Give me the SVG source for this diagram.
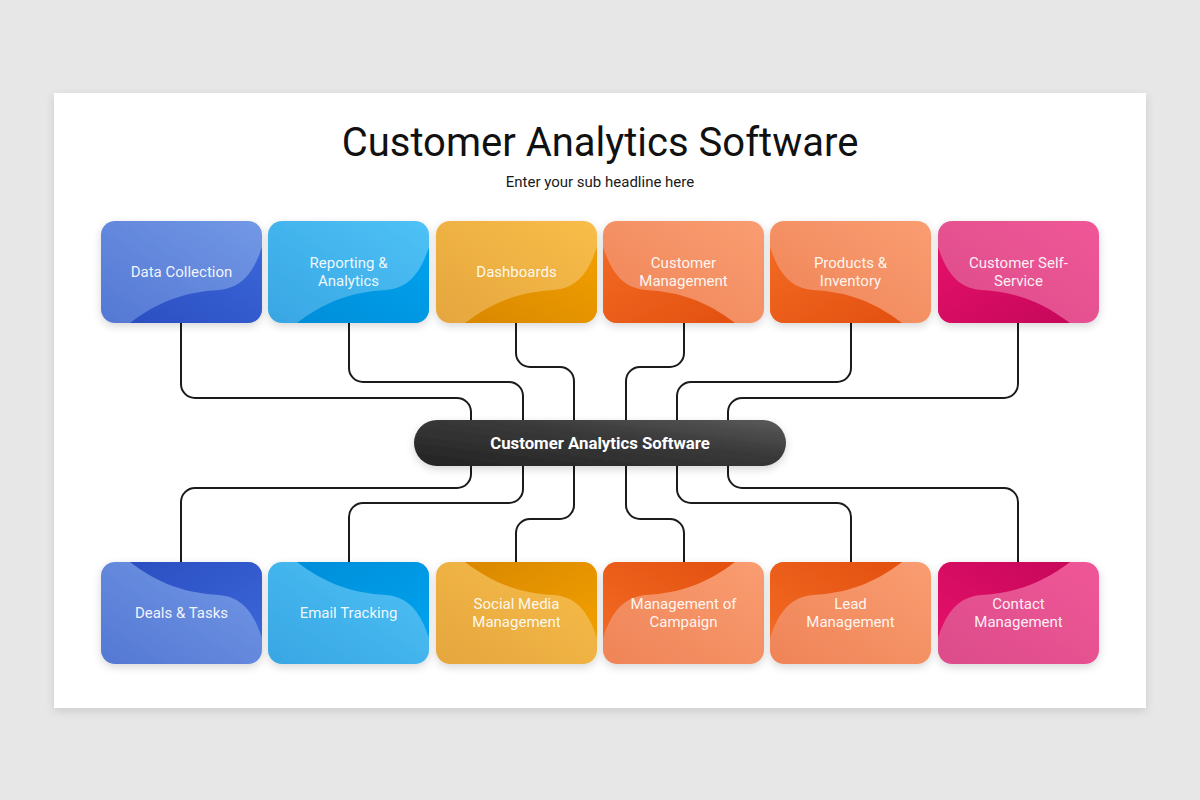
<svg xmlns="http://www.w3.org/2000/svg" width="1200" height="800" viewBox="0 0 1200 800">
<defs>
<style>
.lbl{font-family:Roboto,"Liberation Sans",sans-serif;font-size:15px;fill:#ffffff;fill-opacity:0.93;text-anchor:middle}
.ttl{font-family:Roboto,"Liberation Sans",sans-serif;font-size:40px;fill:#111111;text-anchor:middle}
.sub{font-family:Roboto,"Liberation Sans",sans-serif;font-size:15px;fill:#1a1a1a;text-anchor:middle}
.ctr{font-family:Roboto,"Liberation Sans",sans-serif;font-size:16.8px;font-weight:bold;fill:#ffffff;text-anchor:middle}
.con{fill:none;stroke:#1b1b1b;stroke-width:2}
</style>
<filter id="panelSh" x="-5%" y="-5%" width="110%" height="112%">
<feDropShadow dx="0" dy="3" stdDeviation="5" flood-color="#000" flood-opacity="0.12"/>
</filter>
<filter id="boxSh" x="-15%" y="-15%" width="130%" height="140%">
<feDropShadow dx="0" dy="3" stdDeviation="4" flood-color="#000" flood-opacity="0.16"/>
</filter>
<clipPath id="bc"><rect x="0" y="0" width="161" height="102" rx="14"/></clipPath>
<path id="wave" d="M29,102 C58,80 84,71 118,69 C142,67 153,50 161,26 L161,102 Z"/>
<linearGradient id="blueL" x1="1" y1="0" x2="0" y2="1"><stop offset="0" stop-color="#7298e6"/><stop offset="1" stop-color="#5478d3"/></linearGradient>
<linearGradient id="blueD" x1="0" y1="1" x2="1" y2="0"><stop offset="0" stop-color="#2b4fc1"/><stop offset="1" stop-color="#3b66d9"/></linearGradient>
<linearGradient id="cyanL" x1="1" y1="0" x2="0" y2="1"><stop offset="0" stop-color="#4ec2f6"/><stop offset="1" stop-color="#38a6e3"/></linearGradient>
<linearGradient id="cyanD" x1="0" y1="1" x2="1" y2="0"><stop offset="0" stop-color="#008ed9"/><stop offset="1" stop-color="#00a2ee"/></linearGradient>
<linearGradient id="yelL" x1="1" y1="0" x2="0" y2="1"><stop offset="0" stop-color="#f8bd48"/><stop offset="1" stop-color="#e5a63f"/></linearGradient>
<linearGradient id="yelD" x1="0" y1="1" x2="1" y2="0"><stop offset="0" stop-color="#d98800"/><stop offset="1" stop-color="#f2a000"/></linearGradient>
<linearGradient id="oraL" x1="1" y1="0" x2="0" y2="1"><stop offset="0" stop-color="#f99d71"/><stop offset="1" stop-color="#ef8457"/></linearGradient>
<linearGradient id="oraD" x1="0" y1="1" x2="1" y2="0"><stop offset="0" stop-color="#e3500f"/><stop offset="1" stop-color="#f26a24"/></linearGradient>
<linearGradient id="pinkL" x1="1" y1="0" x2="0" y2="1"><stop offset="0" stop-color="#f05697"/><stop offset="1" stop-color="#dc4d8a"/></linearGradient>
<linearGradient id="pinkD" x1="0" y1="1" x2="1" y2="0"><stop offset="0" stop-color="#c6085a"/><stop offset="1" stop-color="#e5106a"/></linearGradient>
<linearGradient id="pill" x1="0" y1="1" x2="1" y2="0"><stop offset="0" stop-color="#232323"/><stop offset="0.6" stop-color="#3a3a3a"/><stop offset="1" stop-color="#5a5a5a"/></linearGradient>
</defs>

<rect x="0" y="0" width="1200" height="800" fill="#e8e7e8"/>
<rect x="54" y="93" width="1092" height="615" fill="#ffffff" filter="url(#panelSh)"/>

<text class="ttl" x="600" y="156">Customer Analytics Software</text>
<text class="sub" x="600" y="187">Enter your sub headline here</text>

<g id="connectors">
<path class="con" d="M181,323 V384 A14,14 0 0 0 195,398 H457 A14,14 0 0 1 471,412 V420"/>
<path class="con" d="M349,323 V368 A14,14 0 0 0 363,382 H509 A14,14 0 0 1 523,396 V420"/>
<path class="con" d="M516,323 V353 A14,14 0 0 0 530,367 H560 A14,14 0 0 1 574,381 V420"/>
<path class="con" d="M684,323 V353 A14,14 0 0 1 670,367 H640 A14,14 0 0 0 626,381 V420"/>
<path class="con" d="M851,323 V368 A14,14 0 0 1 837,382 H691 A14,14 0 0 0 677,396 V420"/>
<path class="con" d="M1018,323 V384 A14,14 0 0 1 1004,398 H742 A14,14 0 0 0 728,412 V420"/>
<path class="con" d="M471,466 V474 A14,14 0 0 1 457,488 H195 A14,14 0 0 0 181,502 V562"/>
<path class="con" d="M523,466 V489 A14,14 0 0 1 509,503 H363 A14,14 0 0 0 349,517 V562"/>
<path class="con" d="M574,466 V505 A14,14 0 0 1 560,519 H530 A14,14 0 0 0 516,533 V562"/>
<path class="con" d="M626,466 V505 A14,14 0 0 0 640,519 H670 A14,14 0 0 1 684,533 V562"/>
<path class="con" d="M677,466 V489 A14,14 0 0 0 691,503 H837 A14,14 0 0 1 851,517 V562"/>
<path class="con" d="M728,466 V474 A14,14 0 0 0 742,488 H1004 A14,14 0 0 1 1018,502 V562"/>
</g>

<g id="center">
<rect x="414" y="420" width="372" height="46" rx="23" fill="url(#pill)" filter="url(#boxSh)"/>
<text class="ctr" x="600" y="449">Customer Analytics Software</text>
</g>

<!-- top row -->
<g id="data-collection" transform="translate(101,221)">
<rect width="161" height="102" rx="14" fill="url(#blueL)" filter="url(#boxSh)"/>
<g clip-path="url(#bc)"><use href="#wave" fill="url(#blueD)"/></g>
<text class="lbl" x="80.5" y="56">Data Collection</text>
</g>
<g id="reporting-analytics" transform="translate(268,221)">
<rect width="161" height="102" rx="14" fill="url(#cyanL)" filter="url(#boxSh)"/>
<g clip-path="url(#bc)"><use href="#wave" fill="url(#cyanD)"/></g>
<text class="lbl" x="80.5" y="47">Reporting &amp;</text>
<text class="lbl" x="80.5" y="65">Analytics</text>
</g>
<g id="dashboards" transform="translate(436,221)">
<rect width="161" height="102" rx="14" fill="url(#yelL)" filter="url(#boxSh)"/>
<g clip-path="url(#bc)"><use href="#wave" fill="url(#yelD)"/></g>
<text class="lbl" x="80.5" y="56">Dashboards</text>
</g>
<g id="customer-management" transform="translate(603,221)">
<rect width="161" height="102" rx="14" fill="url(#oraL)" filter="url(#boxSh)"/>
<g clip-path="url(#bc)"><use href="#wave" fill="url(#oraD)" transform="matrix(-1 0 0 1 161 0)"/></g>
<text class="lbl" x="80.5" y="47">Customer</text>
<text class="lbl" x="80.5" y="65">Management</text>
</g>
<g id="products-inventory" transform="translate(770,221)">
<rect width="161" height="102" rx="14" fill="url(#oraL)" filter="url(#boxSh)"/>
<g clip-path="url(#bc)"><use href="#wave" fill="url(#oraD)" transform="matrix(-1 0 0 1 161 0)"/></g>
<text class="lbl" x="80.5" y="47">Products &amp;</text>
<text class="lbl" x="80.5" y="65">Inventory</text>
</g>
<g id="customer-self-service" transform="translate(938,221)">
<rect width="161" height="102" rx="14" fill="url(#pinkL)" filter="url(#boxSh)"/>
<g clip-path="url(#bc)"><use href="#wave" fill="url(#pinkD)" transform="matrix(-1 0 0 1 161 0)"/></g>
<text class="lbl" x="80.5" y="47">Customer Self-</text>
<text class="lbl" x="80.5" y="65">Service</text>
</g>

<!-- bottom row -->
<g id="deals-tasks" transform="translate(101,562)">
<rect width="161" height="102" rx="14" fill="url(#blueL)" filter="url(#boxSh)"/>
<g clip-path="url(#bc)"><use href="#wave" fill="url(#blueD)" transform="matrix(1 0 0 -1 0 102)"/></g>
<text class="lbl" x="80.5" y="56">Deals &amp; Tasks</text>
</g>
<g id="email-tracking" transform="translate(268,562)">
<rect width="161" height="102" rx="14" fill="url(#cyanL)" filter="url(#boxSh)"/>
<g clip-path="url(#bc)"><use href="#wave" fill="url(#cyanD)" transform="matrix(1 0 0 -1 0 102)"/></g>
<text class="lbl" x="80.5" y="56">Email Tracking</text>
</g>
<g id="social-media-management" transform="translate(436,562)">
<rect width="161" height="102" rx="14" fill="url(#yelL)" filter="url(#boxSh)"/>
<g clip-path="url(#bc)"><use href="#wave" fill="url(#yelD)" transform="matrix(1 0 0 -1 0 102)"/></g>
<text class="lbl" x="80.5" y="47">Social Media</text>
<text class="lbl" x="80.5" y="65">Management</text>
</g>
<g id="management-of-campaign" transform="translate(603,562)">
<rect width="161" height="102" rx="14" fill="url(#oraL)" filter="url(#boxSh)"/>
<g clip-path="url(#bc)"><use href="#wave" fill="url(#oraD)" transform="matrix(-1 0 0 -1 161 102)"/></g>
<text class="lbl" x="80.5" y="47">Management of</text>
<text class="lbl" x="80.5" y="65">Campaign</text>
</g>
<g id="lead-management" transform="translate(770,562)">
<rect width="161" height="102" rx="14" fill="url(#oraL)" filter="url(#boxSh)"/>
<g clip-path="url(#bc)"><use href="#wave" fill="url(#oraD)" transform="matrix(-1 0 0 -1 161 102)"/></g>
<text class="lbl" x="80.5" y="47">Lead</text>
<text class="lbl" x="80.5" y="65">Management</text>
</g>
<g id="contact-management" transform="translate(938,562)">
<rect width="161" height="102" rx="14" fill="url(#pinkL)" filter="url(#boxSh)"/>
<g clip-path="url(#bc)"><use href="#wave" fill="url(#pinkD)" transform="matrix(-1 0 0 -1 161 102)"/></g>
<text class="lbl" x="80.5" y="47">Contact</text>
<text class="lbl" x="80.5" y="65">Management</text>
</g>
</svg>
